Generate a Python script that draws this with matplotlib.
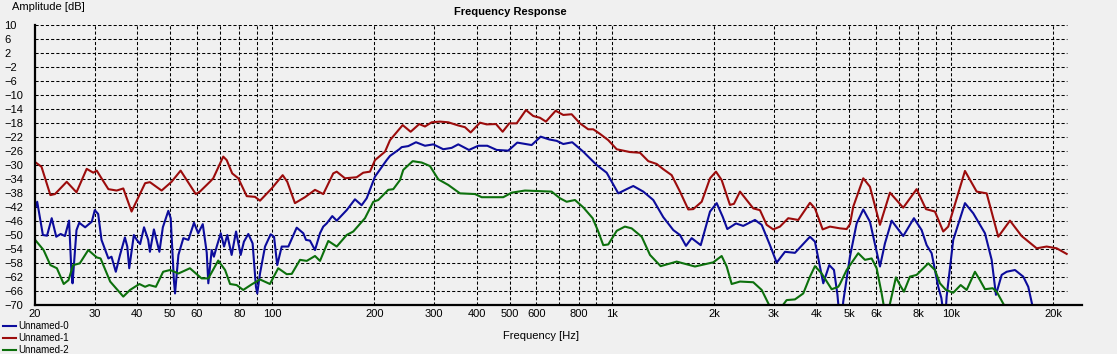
import matplotlib
matplotlib.use("Agg")
from matplotlib import pyplot as plt

# Unnamed-0 (blue)
blue_hz = [20.1, 20.3, 21.1, 21.7, 22.4, 23.1, 23.8, 24.5, 25.2, 25.6,
           25.8, 26.5, 27.0, 28.1, 29.4, 30.0, 30.7, 31.4, 32.9, 33.6,
           34.6, 35.6, 36.8, 37.4, 37.9, 39.1, 39.9, 40.8, 41.9, 43.1,
           43.6, 44.8, 46.5, 47.6, 49.4, 50.2, 51.3, 51.7, 52.9, 54.7,
           56.6, 58.8, 60.5, 62.4, 64.1, 64.8, 66.3, 67.3, 68.6, 70.5,
           72.1, 73.7, 75.9, 78.2, 80.7, 82.5, 85.0, 87.5, 89.5, 90.3,
           92.0, 95.2, 98.9, 101.2, 103.4, 106.6, 111.5, 118.0, 123.4, 125.7,
           129.1, 133.6, 138.2, 141.3, 144.6, 150.2, 154.8, 165.6, 175.2, 183.3,
           189.7, 200.7, 217.2, 222.2, 236.6, 240.5, 251.5, 265.0, 281.7, 298.0,
           318.9, 337.6, 353.0, 379.6, 404.3, 429.8, 458.0, 495.5, 526.7, 580.7,
           617.3, 654.4, 688.1, 719.6, 764.8, 824.1, 902.5, 965.8, 1045, 1106,
           1157, 1238, 1325, 1418, 1518, 1588, 1654, 1719, 1828, 1947,
           2037, 2122, 2189, 2322, 2439, 2641, 2764, 2924, 3060, 3237,
           3464, 3835, 3967, 4197, 4371, 4513, 4620, 4690, 4760, 4806,
           5030, 5263, 5505, 5760, 6165, 6377, 6674, 7219, 7763, 8179,
           8462, 8753, 9154, 9350, 9500, 9640, 9690, 10134, 10973, 11609,
           12567, 13151, 13540, 14074, 14560, 15403, 16295, 16857, 17367, 17500]
blue_db = [-41.9, -40.5, -50.0, -50.2, -45.2, -50.5, -49.7, -50.3, -45.9, -60.5,
           -63.8, -48.6, -46.5, -47.8, -46.2, -42.9, -44.0, -51.4, -56.7, -56.2,
           -60.5, -55.7, -50.7, -53.3, -59.5, -50.0, -51.4, -52.6, -47.8, -51.4,
           -54.8, -48.4, -54.8, -47.8, -43.1, -45.2, -62.9, -66.7, -55.7, -50.9,
           -51.4, -46.5, -49.5, -46.9, -55.0, -63.8, -54.3, -56.2, -53.3, -49.5,
           -53.3, -50.0, -55.7, -49.0, -55.7, -51.9, -49.7, -52.4, -64.8, -66.7,
           -61.0, -53.3, -49.8, -50.5, -58.6, -53.3, -53.3, -47.9, -49.5, -51.4,
           -51.6, -54.3, -49.5, -47.6, -46.7, -44.6, -45.9, -42.9, -39.8, -41.5,
           -39.5, -33.3, -28.6, -27.4, -25.5, -24.9, -24.6, -23.5, -24.5, -24.1,
           -25.5, -25.1, -24.1, -25.7, -24.5, -24.5, -25.7, -25.9, -23.6, -24.3,
           -21.9, -22.7, -23.1, -24.0, -23.5, -26.2, -30.0, -32.2, -38.1, -36.9,
           -36.0, -37.6, -40.0, -44.9, -48.6, -50.0, -53.1, -50.9, -52.9, -43.3,
           -40.9, -44.8, -48.3, -46.7, -47.4, -45.7, -47.1, -52.9, -57.9, -54.8,
           -55.1, -50.5, -51.9, -63.8, -58.6, -60.0, -67.0, -74.0, -74.0, -69.0,
           -56.2, -46.7, -42.7, -46.2, -59.0, -52.4, -45.9, -50.3, -45.2, -48.6,
           -52.9, -55.2, -64.8, -68.0, -73.0, -71.0, -67.6, -51.4, -40.9, -43.8,
           -49.5, -57.1, -67.1, -61.4, -60.5, -60.0, -61.9, -64.8, -70.5, -74.0]

# Unnamed-1 (red)
red_hz = [20.1, 20.9, 22.2, 22.9, 24.8, 26.5, 28.4, 29.7, 30.4, 31.4,
          32.9, 34.8, 36.4, 38.5, 42.2, 43.6, 47.2, 50.5, 53.7, 59.5,
          61.2, 65.5, 67.0, 71.7, 73.4, 76.2, 79.4, 84.1, 88.9, 92.0,
          99.6, 107.3, 110.7, 116.6, 124.8, 133.6, 141.3, 151.2, 154.8, 163.7,
          177.2, 185.3, 194.0, 200.7, 214.8, 222.2, 237.8, 242.1, 255.6, 271.0,
          281.7, 294.8, 311.8, 329.9, 353.0, 369.4, 384.0, 409.0, 428.0, 455.9,
          477.0, 498.9, 524.6, 558.7, 587.0, 614.3, 639.9, 683.4, 719.6, 761.7,
          805.8, 852.5, 881.9, 922.9, 976.4, 1034, 1131, 1211, 1281, 1356,
          1418, 1501, 1588, 1680, 1738, 1840, 1947, 2027, 2107, 2229,
          2290, 2386, 2496, 2611, 2732, 2859, 2990, 3129, 3310, 3542,
          3835, 3967, 4180, 4392, 4700, 4918, 5030, 5144, 5505, 5760,
          6165, 6597, 7219, 7906, 8422, 8951, 9470, 9796, 10973, 11879,
          12713, 13753, 14889, 16119, 17845, 19097, 20438, 21872]
red_db = [-29.3, -30.5, -38.6, -38.3, -34.8, -37.8, -31.1, -32.2, -31.6, -33.8,
          -36.9, -37.3, -36.7, -43.3, -35.2, -34.9, -37.3, -34.8, -31.6, -38.3,
          -37.6, -34.8, -33.8, -27.6, -28.6, -32.4, -33.8, -38.9, -39.1, -40.2,
          -36.7, -32.9, -34.8, -40.9, -39.2, -37.1, -38.3, -32.4, -31.9, -33.8,
          -33.5, -32.2, -31.9, -28.6, -26.2, -22.9, -19.5, -18.6, -20.5, -18.3,
          -19.0, -17.8, -17.6, -17.8, -18.7, -19.2, -20.7, -17.9, -18.4, -18.3,
          -20.5, -18.1, -18.1, -14.3, -16.0, -16.5, -17.6, -14.5, -15.7, -15.5,
          -18.1, -19.8, -19.8, -21.1, -22.9, -25.5, -26.3, -26.5, -28.9, -29.7,
          -31.2, -32.9, -37.6, -42.7, -42.6, -40.5, -33.8, -31.9, -34.3, -41.4,
          -41.1, -37.6, -40.0, -42.4, -42.9, -47.1, -48.4, -47.6, -45.2, -45.7,
          -40.8, -42.4, -48.4, -47.6, -48.1, -48.3, -46.9, -41.9, -33.8, -36.2,
          -47.1, -37.9, -42.2, -36.9, -42.6, -43.3, -49.0, -47.6, -31.7, -37.6,
          -38.1, -50.5, -45.9, -50.3, -53.8, -53.3, -53.8, -55.4]

# Unnamed-2 (green)
green_hz = [20.1, 21.2, 22.2, 23.2, 24.3, 25.1, 25.9, 27.1, 28.7, 30.4,
            31.2, 33.3, 36.4, 38.1, 40.6, 42.2, 43.4, 45.4, 47.7, 50.0,
            52.9, 57.2, 61.9, 64.8, 69.3, 72.6, 75.1, 78.5, 82.1, 87.0,
            92.0, 98.4, 104.1, 110.3, 114.1, 120.7, 126.3, 133.6, 138.2, 146.2,
            154.8, 165.6, 173.2, 187.5, 198.4, 205.2, 219.6, 227.2, 237.8, 243.1,
            259.1, 275.5, 291.4, 308.3, 329.9, 357.1, 395.4, 413.8, 479.0, 507.1,
            554.9, 665.1, 703.6, 736.3, 779.0, 824.1, 878.3, 912.3, 943.8, 976.4,
            1034, 1093, 1144, 1225, 1296, 1393, 1553, 1758, 1991, 2107,
            2180, 2255, 2386, 2611, 2764, 2924, 3000, 3100, 3165, 3274,
            3464, 3664, 3835, 3967, 4152, 4443, 4646, 4700, 4918, 5321,
            5568, 5827, 6028, 6236, 6334, 6450, 6566, 6871, 7060, 7254,
            7555, 7906, 8554, 8951, 9260, 9645, 10134, 10658, 11100, 11743,
            12148, 12567, 13241, 13605, 14393, 14600]
green_db = [-51.6, -54.3, -58.6, -59.5, -64.0, -62.9, -58.6, -58.1, -54.3, -56.4,
            -56.7, -63.3, -67.6, -65.7, -64.0, -64.8, -64.3, -64.8, -60.5, -60.0,
            -61.0, -59.5, -62.4, -62.4, -57.3, -60.0, -64.0, -64.3, -65.7, -64.1,
            -62.7, -64.0, -59.5, -61.2, -61.1, -57.1, -57.4, -56.0, -57.4, -51.7,
            -53.3, -50.0, -49.0, -45.2, -40.5, -40.0, -37.1, -36.9, -34.3, -31.4,
            -28.9, -29.3, -30.3, -34.1, -35.7, -38.1, -38.3, -39.2, -39.2, -37.9,
            -37.3, -37.6, -39.5, -40.5, -40.0, -42.1, -45.2, -49.0, -52.9, -52.7,
            -48.8, -47.6, -48.1, -50.5, -55.7, -58.9, -57.6, -59.0, -57.8, -56.0,
            -59.0, -64.0, -63.3, -63.5, -65.7, -70.5, -74.0, -74.0, -70.5, -68.6,
            -68.4, -66.7, -61.9, -58.9, -61.0, -65.5, -64.8, -64.0, -60.0, -55.2,
            -57.1, -56.7, -59.5, -66.7, -70.5, -73.0, -70.5, -62.1, -64.3, -66.2,
            -61.9, -61.4, -58.1, -60.0, -63.8, -65.7, -66.5, -64.3, -65.7, -60.5,
            -62.9, -65.5, -65.2, -66.2, -70.5, -73.0]

x_grid = [30, 40, 50, 60, 70, 80, 90, 100, 200, 300, 400, 500, 600, 700, 800, 900,
          1000, 2000, 3000, 4000, 5000, 6000, 7000, 8000, 9000, 10000, 20000]
x_labels = ['30', '40', '50', '60', '', '80', '', '100', '200', '300', '400', '500',
            '600', '', '800', '', '1k', '2k', '3k', '4k', '5k', '6k', '', '8k', '',
            '10k', '20k']
y_ticks = list(range(-70, 11, 4))

BG = '#f0f0f0'
W, H = 1117, 354


def main():
    plt.rcParams['font.family'] = ['Liberation Sans', 'DejaVu Sans']
    fig = plt.figure(figsize=(W / 100, H / 100), dpi=100, facecolor=BG)
    ax = fig.add_axes([35 / W, 49 / H, 1047 / W, 280 / H], facecolor=BG)

    ax.set_xscale('log')
    ax.set_xlim(20, 24270)
    ax.set_ylim(-70, 10)

    grid_kw = dict(color='black', lw=0.75, ls=(0, (3, 2)), zorder=1)
    for f in x_grid:
        ax.axvline(f, **grid_kw)
    ax.hlines([v for v in y_ticks if v > -70], 20, 21900, **grid_kw)

    l0, = ax.plot(blue_hz, blue_db, color='#0c0c9c', lw=1.5, zorder=3)
    l1, = ax.plot(red_hz, red_db, color='#9c0c0c', lw=1.5, zorder=3)
    l2, = ax.plot(green_hz, green_db, color='#0c700c', lw=1.5, zorder=3)

    ax.set_xticks([20] + x_grid)
    ax.set_xticklabels(['20'] + x_labels)
    ax.minorticks_off()
    ax.set_yticks(y_ticks)
    ax.tick_params(axis='both', length=0, labelsize=8)
    ax.tick_params(axis='x', pad=3)
    ax.tick_params(axis='y', pad=22)
    for lab in ax.get_yticklabels():
        lab.set_ha('left')

    for side in ('top', 'right'):
        ax.spines[side].set_visible(False)
    for side in ('left', 'bottom'):
        ax.spines[side].set_linewidth(1.6)
        ax.spines[side].set_color('black')
        ax.spines[side].set_zorder(4)

    fig.text(510 / W, 1 - 12 / H, 'Frequency Response', ha='center', va='center',
             fontsize=8, fontweight='bold')
    fig.text(12 / W, 1 - 7 / H, 'Amplitude [dB]', ha='left', va='center', fontsize=8)
    fig.text(541 / W, 1 - 336 / H, 'Frequency [Hz]', ha='center', va='center', fontsize=8)

    fig.legend([l0, l1, l2], ['Unnamed-0', 'Unnamed-1', 'Unnamed-2'],
               loc='upper left', bbox_to_anchor=(3 / W, 1 - 321 / H),
               frameon=False, fontsize=7, handlelength=1.3, handletextpad=0.3,
               labelspacing=0.22, borderpad=0, borderaxespad=0)

    fig.savefig('out.png', dpi=100, facecolor=BG)


if __name__ == "__main__":
    main()
